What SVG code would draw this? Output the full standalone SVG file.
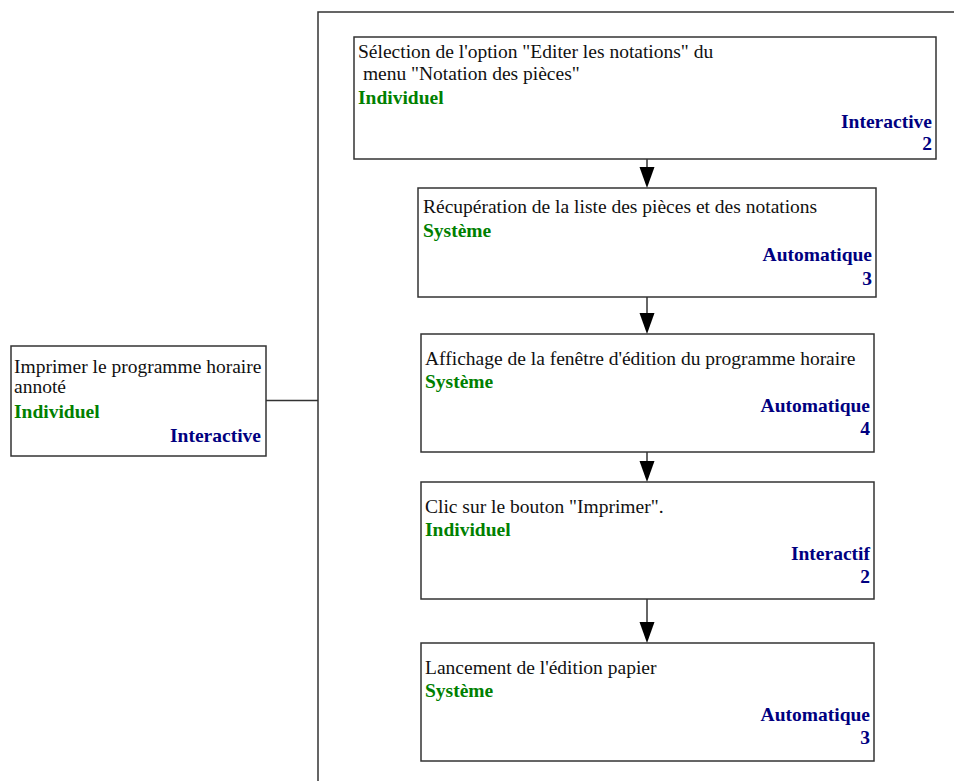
<svg xmlns="http://www.w3.org/2000/svg" width="954" height="781" viewBox="0 0 954 781">
<defs>
<style>
.box{fill:#fff;stroke:#333;stroke-width:1.5}
.ln{fill:none;stroke:#333;stroke-width:1.5}
text{font-family:"Liberation Serif","Times New Roman",serif;font-size:19.5px;white-space:pre}
.t{fill:#111}
.g{fill:#008000;font-weight:bold}
.b{fill:#000080;font-weight:bold;text-anchor:end}
</style>
</defs>
<rect width="954" height="781" fill="#fff"/>
<g id="connectors">
<path class="ln" d="M318,781 V12 H954"/>
<path class="ln" d="M266,400.5 H318"/>
<line x1="647" y1="159" x2="647" y2="167" class="ln"/>
<path d="M639.5,167 L654.5,167 L647,188 Z" fill="#000"/>
<line x1="647" y1="297" x2="647" y2="313" class="ln"/>
<path d="M639.5,313 L654.5,313 L647,334 Z" fill="#000"/>
<line x1="647" y1="452" x2="647" y2="461" class="ln"/>
<path d="M639.5,461 L654.5,461 L647,482 Z" fill="#000"/>
<line x1="647" y1="599" x2="647" y2="622" class="ln"/>
<path d="M639.5,622 L654.5,622 L647,643 Z" fill="#000"/>
</g>
<g id="n0">
<rect class="box" x="11" y="346" width="255" height="110"/>
<text class="t" x="14" y="373">Imprimer le programme horaire</text>
<text class="t" x="14" y="393">annoté</text>
<text class="g" x="14" y="418">Individuel</text>
<text class="b" x="261" y="442">Interactive</text>
</g>
<g id="n1">
<rect class="box" x="354" y="37" width="582" height="122"/>
<text class="t" x="358" y="58">Sélection de l'option "Editer les notations" du</text>
<text class="t" x="358" y="80" xml:space="preserve"> menu "Notation des pièces"</text>
<text class="g" x="358" y="104">Individuel</text>
<text class="b" x="932" y="128">Interactive</text>
<text class="b" x="932" y="150">2</text>
</g>
<g id="n2">
<rect class="box" x="418" y="188" width="458" height="109"/>
<text class="t" x="423" y="213">Récupération de la liste des pièces et des notations</text>
<text class="g" x="423" y="237">Système</text>
<text class="b" x="872" y="261">Automatique</text>
<text class="b" x="872" y="285">3</text>
</g>
<g id="n3">
<rect class="box" x="421" y="334" width="453" height="118"/>
<text class="t" x="425" y="365">Affichage de la fenêtre d'édition du programme horaire</text>
<text class="g" x="425" y="388">Système</text>
<text class="b" x="870" y="412">Automatique</text>
<text class="b" x="870" y="435">4</text>
</g>
<g id="n4">
<rect class="box" x="421" y="482" width="453" height="117"/>
<text class="t" x="425" y="513">Clic sur le bouton "Imprimer".</text>
<text class="g" x="425" y="536">Individuel</text>
<text class="b" x="870" y="560">Interactif</text>
<text class="b" x="870" y="583">2</text>
</g>
<g id="n5">
<rect class="box" x="421" y="643" width="453" height="118"/>
<text class="t" x="425" y="674">Lancement de l'édition papier</text>
<text class="g" x="425" y="697">Système</text>
<text class="b" x="870" y="721">Automatique</text>
<text class="b" x="870" y="744">3</text>
</g>
</svg>
